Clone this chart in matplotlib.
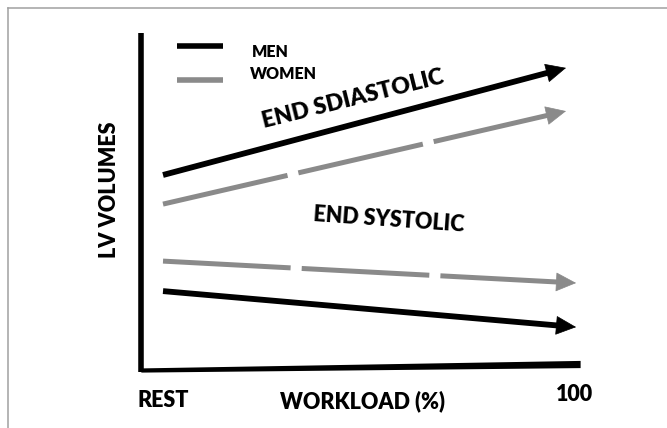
import numpy as np
import matplotlib
matplotlib.use("Agg")
import matplotlib.pyplot as plt
from matplotlib.lines import Line2D

plt.rcParams["font.family"] = ["Lato", "DejaVu Sans"]
plt.rcParams["font.weight"] = "heavy"
plt.rcParams["lines.scale_dashes"] = False

# ── Schematic data (workload %, LV volume in arbitrary units) ───────────────
workload = [0, 100]
men_ed = [65, 100.7]
women_ed = [55.3, 86.3]
workload_es = [0, 102.5]
women_es = [36.3, 29]
men_es = [26.3, 14.3]

BLACK = "#000000"
GRAY = "#8a8a8a"
DASH = (0, (92, 8))

# axis frame of the schematic
yaxis_x = [-5.5, -5.5]
yaxis_y = [-0.6, 112.3]
xaxis_x = [-5.5, 103.5]
xaxis_y = [0, 2]
xaxis_halfw = [0.7, 1.2]

fig = plt.figure(figsize=(6.67, 4.28), dpi=100)
ax = fig.add_axes([0, 0, 1, 1])
ax.set_xlim(-40.45, 125.06)
ax.set_ylim(-19.33, 123.33)
ax.axis("off")

# outer gray frame (top and left edge only)
fig.add_artist(Line2D([8 / 667, 1], [1 - 8 / 428] * 2, color="#a0a0a0", lw=1.1))
fig.add_artist(Line2D([8 / 667] * 2, [0, 1 - 8 / 428], color="#a0a0a0", lw=1.1))

# axes of the schematic
ax.plot(yaxis_x, yaxis_y, color=BLACK, lw=4, solid_capstyle="butt")
xa = np.array(xaxis_x)
ya = np.array(xaxis_y)
hw = np.array(xaxis_halfw)
ax.fill_between(xa, ya - hw, ya + hw, color=BLACK, lw=0)


def arrow_line(x, y, color, lw, ls="-"):
    x0, x1 = x
    y0, y1 = y
    f_end = 0.96
    ax.plot([x0, x0 + f_end * (x1 - x0)], [y0, y0 + f_end * (y1 - y0)],
            color=color, lw=lw, ls=ls, solid_capstyle="butt", dash_capstyle="butt")
    f_start = 0.85
    ax.annotate("", xy=(x1, y1),
                xytext=(x0 + f_start * (x1 - x0), y0 + f_start * (y1 - y0)),
                arrowprops=dict(arrowstyle="-|>,head_length=0.68,head_width=0.32",
                                mutation_scale=20, color=color, lw=0.5,
                                shrinkA=0, shrinkB=0))


arrow_line(workload, men_ed, BLACK, 4.2)
arrow_line(workload, women_ed, GRAY, 3.6, DASH)
arrow_line(workload_es, women_es, GRAY, 3.6, DASH)
arrow_line(workload_es, men_es, BLACK, 4.2)

# legend
ax.plot([3.5, 14.9], [108, 108], color=BLACK, lw=4, solid_capstyle="butt")
ax.plot([3.5, 14.9], [96.7, 96.7], color=GRAY, lw=4, solid_capstyle="butt")
ax.text(22.1, 106, "MEN", fontsize=11.5, ha="left", va="center")
ax.text(21.6, 98.7, "WOMEN", fontsize=11.5, ha="left", va="center")

# annotations
ax.text(47.1, 90.3, "END SDIASTOLIC", fontsize=16.5, rotation=14,
        rotation_mode="anchor", ha="center", va="center")
ax.text(56.1, 50, "END SYSTOLIC", fontsize=15.5, rotation=-4,
        rotation_mode="anchor", ha="center", va="center")
ax.text(-13.2, 60, "LV VOLUMES", fontsize=15.5, rotation=90,
        ha="center", va="center")
ax.text(0, -10, "REST", fontsize=15.5, ha="center", va="center")
ax.text(49.4, -10.3, "WORKLOAD (%)", fontsize=15.5, ha="center", va="center")
ax.text(102.2, -8, "100", fontsize=15.5, ha="center", va="center")

fig.savefig("out.png", dpi=100)
